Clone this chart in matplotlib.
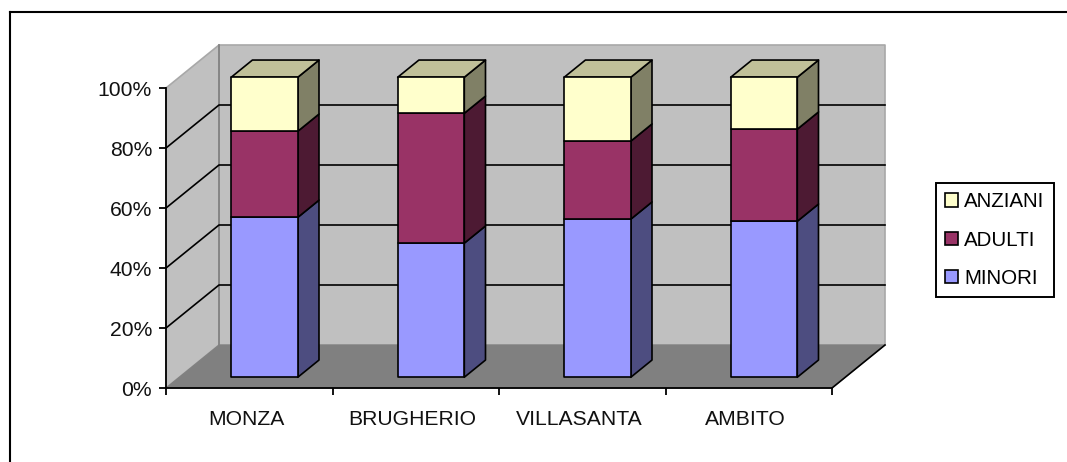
import numpy as np
import matplotlib
matplotlib.use('Agg')
import matplotlib.pyplot as plt
from matplotlib.lines import Line2D
from matplotlib.patches import Polygon, Patch
from matplotlib.transforms import ScaledTranslation

plt.rcParams['font.family'] = ['Liberation Sans', 'DejaVu Sans']

categories = ['MONZA', 'BRUGHERIO', 'VILLASANTA', 'AMBITO']
minori = [53.3, 44.7, 52.7, 52.0]
adulti = [28.7, 43.3, 26.0, 30.7]
anziani = [18.0, 12.0, 21.3, 17.3]
y_ticks = [0, 20, 40, 60, 80, 100]

series = [('MINORI', minori, '#9999FF', '#4D4D80'),
          ('ADULTI', adulti, '#993366', '#4D1A33'),
          ('ANZIANI', anziani, '#FFFFCC', '#808066')]
top_color = '#C0C099'

W, H = 1067, 462
fig = plt.figure(figsize=(W / 100, H / 100), dpi=100)
fig.patch.set_facecolor('white')

# the picture only has a top and a left border
fig.add_artist(Line2D([9.5 / W, 1], [1 - 12 / H, 1 - 12 / H], color='black', lw=1.5))
fig.add_artist(Line2D([9.5 / W, 9.5 / W], [0, 1 - 12 / H], color='black', lw=1.5))

ax = fig.add_axes([166 / W, (H - 388) / H, 666 / W, 300 / H])
ax.set_xlim(0, 4)
ax.set_ylim(0, 100)
ax.patch.set_visible(False)

# how far the chart depth shifts things, in data units
DX = 53 / 166.5
DY = 43 / 3


def proj(x, y, d):
    return (x + d * DX, y + d * DY)


def poly(pts, fc, ec='black', lw=1.2, z=2):
    ax.add_patch(Polygon(pts, closed=True, facecolor=fc, edgecolor=ec, linewidth=lw,
                         zorder=z, clip_on=False, joinstyle='round'))


# walls and floor
poly([proj(0, 0, 1), proj(4, 0, 1), proj(4, 100, 1), proj(0, 100, 1)], '#C0C0C0', '#A8A8A8', 1.2, 1)
poly([proj(0, 0, 0), proj(0, 0, 1), proj(0, 100, 1), proj(0, 100, 0)], '#C0C0C0', '#A8A8A8', 1.2, 1)
poly([proj(0, 0, 0), proj(4, 0, 0), proj(4, 0, 1), proj(0, 0, 1)], '#808080', '#808080', 0.8, 1)
ax.plot(*zip(proj(0, 0, 1), proj(0, 100, 1)), color='#808080', lw=1.2, zorder=1.2, clip_on=False)
ax.plot(*zip(proj(4, 0, 0), proj(4, 0, 1)), color='black', lw=1.2, zorder=1.2, clip_on=False)

# gridlines on the side wall and the back wall
for t in y_ticks[1:-1]:
    ax.plot(*zip(proj(0, t, 0), proj(0, t, 1), proj(4, t, 1)), color='black', lw=1.2,
            zorder=1.5, clip_on=False)

# stacked boxes
bar_w = 0.4
d0, d1 = 0.25, 0.65
for i in range(len(categories)):
    left = i + 0.5 - bar_w / 2 + 0.012
    right = left + bar_w
    base = 0
    for name, vals, front, side in series:
        v = vals[i]
        poly([proj(right, base, d0), proj(right, base, d1), proj(right, base + v, d1),
              proj(right, base + v, d0)], side)
        poly([proj(left, base, d0), proj(right, base, d0), proj(right, base + v, d0),
              proj(left, base + v, d0)], front, z=3)
        base += v
    poly([proj(left, base, d0), proj(right, base, d0), proj(right, base, d1),
          proj(left, base, d1)], top_color)

# axes
for s in ['top', 'right']:
    ax.spines[s].set_visible(False)
for s in ['left', 'bottom']:
    ax.spines[s].set_linewidth(1.3)
    ax.spines[s].set_zorder(4)
ax.set_yticks(y_ticks)
ax.set_yticklabels([f'{t}%' for t in y_ticks], fontsize=15.2, color='#111111')
ax.set_xticks(range(len(categories) + 1))
ax.set_xticklabels([])
ax.set_xticks(np.arange(len(categories)) + 0.5, minor=True)
ax.set_xticklabels(categories, minor=True, fontsize=15.2, color='#111111')
ax.tick_params(axis='x', which='minor', length=0, pad=16)
ax.tick_params(axis='both', which='major', length=5, width=1.3, color='black')
ax.tick_params(axis='y', pad=5)
# labels sit a little left of the category centres
shift = ScaledTranslation(-3 / 100, 0, fig.dpi_scale_trans)
for lab in ax.get_xticklabels(minor=True):
    lab.set_transform(lab.get_transform() + shift)

handles = [Patch(facecolor=c, edgecolor='black', linewidth=1.2, label=n)
           for n, v, c, s in reversed(series)]
leg = fig.legend(handles=handles, loc='upper left', bbox_to_anchor=(936 / W, 1 - 183 / H),
                 fontsize=14.8, fancybox=False, framealpha=1, edgecolor='black',
                 handlelength=0.62, handleheight=0.62, handletextpad=0.3,
                 labelspacing=0.94, borderpad=0.45, borderaxespad=0)
leg.get_frame().set_linewidth(1.4)

fig.savefig('out.png', dpi=100)
